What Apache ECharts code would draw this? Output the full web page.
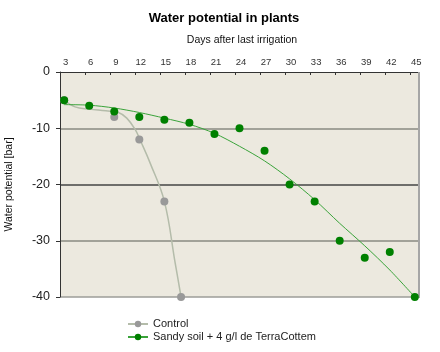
<!DOCTYPE html>
<html>
<head>
<meta charset="utf-8">
<script src="https://cdn.jsdelivr.net/npm/echarts@6/dist/echarts.min.js"></script>
<style>html,body{margin:0;padding:0;background:#fff}#c{width:440px;height:352px}</style>
</head>
<body>
<div id="c"></div>
<script>
// Data
var title = 'Water potential in plants';
var xName = 'Days after last irrigation';
var yName = 'Water potential [bar]';
var xLabels = [3, 6, 9, 12, 15, 18, 21, 24, 27, 30, 33, 36, 39, 42, 45];
var xTicks = [2.5, 5.5, 8.5, 11.5, 14.5, 17.5, 20.5, 23.5, 26.5, 29.5, 32.5, 35.5, 38.5, 41.5, 44.5];

var controlDays = [3, 9, 12, 15, 17];
var controlValues = [-5, -8, -12, -23, -40];
var controlCurveDays = [3, 4.3, 6, 8, 9.5, 10.5, 11.5, 12.1, 13.3, 15, 16.3, 17];
var controlCurveValues = [-5, -6.2, -6.6, -6.9, -7.2, -8.2, -10.2, -12.1, -16.2, -23, -34, -40];

var sandyDays = [3, 6, 9, 12, 15, 18, 21, 24, 27, 30, 33, 36, 39, 42, 45];
var sandyValues = [-5, -6, -7, -8, -8.5, -9, -11, -10, -14, -20, -23, -30, -33, -32, -40];
var sandyTrendDays = [3, 6, 9, 12, 15, 18, 21, 24, 27, 30, 33, 36, 39, 42, 45];
var sandyTrendValues = [-5.8, -5.9, -6.4, -7.2, -8.2, -9.3, -10.9, -13.2, -15.8, -19.0, -22.7, -26.9, -30.9, -35.2, -40];

function zip(a, b) { return a.map(function (v, i) { return [v, b[i]]; }); }

var chart = echarts.init(document.getElementById('c'));
var font = 'Liberation Sans, Arial, sans-serif';
chart.setOption({
  animation: false,
  backgroundColor: '#ffffff',
  textStyle: { fontFamily: font },
  title: {
    text: title, left: 219, top: 7, textAlign: 'center',
    textStyle: { fontSize: 13, fontWeight: 'bold', color: '#000', fontFamily: font }
  },
  grid: { left: 60, right: 21, top: 72, bottom: 55, show: true, backgroundColor: '#ECE9DF', borderWidth: 0,
          containLabel: false, outerBoundsMode: 'none' },
  legend: {
    orient: 'vertical', left: 122, top: 313, itemWidth: 20, itemHeight: 8, itemGap: 1,
    textStyle: { fontSize: 11, color: '#222', lineHeight: 12, fontFamily: font },
    data: ['Control', 'Sandy soil + 4 g/l de TerraCottem']
  },
  xAxis: {
    type: 'value', position: 'top', min: 2.5, max: 45.5,
    name: xName, nameLocation: 'middle', nameGap: 26,
    nameTextStyle: { fontSize: 10.5, color: '#111', fontFamily: font, padding: [0, 0, 0, 5] },
    axisLine: { show: true, lineStyle: { color: '#333', width: 1 } },
    axisTick: { show: true, inside: true, length: 3, customValues: xTicks, lineStyle: { color: '#333' } },
    axisLabel: { customValues: xLabels, fontSize: 9.5, color: '#333', margin: 5, padding: [0, 0, 0, 3] },
    splitLine: { show: false }
  },
  yAxis: {
    type: 'value', min: -40, max: 0, interval: 10,
    name: yName, nameLocation: 'middle', nameGap: 45, nameRotate: 90,
    nameTextStyle: { fontSize: 10.5, color: '#111', fontFamily: font },
    axisLine: { show: true, lineStyle: { color: '#333', width: 1 } },
    axisTick: { show: true, length: 4, lineStyle: { color: '#333' } },
    axisLabel: { fontSize: 12.5, color: '#222', margin: 10 },
    splitLine: { show: true, lineStyle: { color: ['#9d9d98', '#8a8a82', '#444', '#8a8a82', 'rgba(0,0,0,0)'], width: 1.5 } }
  },
  series: [
    {
      name: 'Control', type: 'line', data: zip(controlCurveDays, controlCurveValues),
      smooth: 0.4, symbol: 'circle', showSymbol: false,
      lineStyle: { color: '#B4BCAA', width: 1.5 }, itemStyle: { color: '#999999' }, z: 2
    },
    {
      name: 'Control', type: 'scatter', data: zip(controlDays, controlValues),
      symbol: 'circle', symbolSize: 8, itemStyle: { color: '#999999', opacity: 1 }, z: 3
    },
    {
      name: 'Sandy soil + 4 g/l de TerraCottem', type: 'line', data: zip(sandyTrendDays, sandyTrendValues),
      smooth: 0.3, symbol: 'circle', showSymbol: false,
      lineStyle: { color: '#3AA33A', width: 1 }, itemStyle: { color: '#008000' }, z: 2
    },
    {
      name: 'Sandy soil + 4 g/l de TerraCottem', type: 'scatter', data: zip(sandyDays, sandyValues),
      symbol: 'circle', symbolSize: 8, itemStyle: { color: '#008000', opacity: 1 }, z: 4
    }
  ],
  graphic: [
    { type: 'rect', shape: { x: 418, y: 72, width: 2, height: 226 }, style: { fill: '#a6a6a6' }, silent: true, z: 1 }
  ]
});
</script>
</body>
</html>
